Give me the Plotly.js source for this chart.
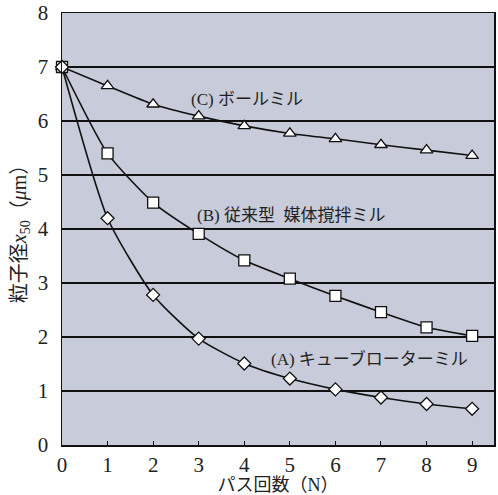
<!DOCTYPE html>
<html><head><meta charset="utf-8">
<script src="https://cdn.plot.ly/plotly-3.0.1.min.js"></script>
<style>body{margin:0;background:#fff}#c{width:498px;height:495px}</style>
</head><body><div id="c"></div>
<script>
const passes = [0,1,2,3,4,5,6,7,8,9];
const ballMill = [7.0,6.65,6.31,6.09,5.91,5.77,5.67,5.56,5.46,5.36];
const conventionalMill = [7.0,5.4,4.49,3.91,3.42,3.08,2.76,2.46,2.18,2.02];
const cubeRotorMill = [7.0,4.2,2.78,1.97,1.51,1.23,1.03,0.88,0.76,0.67];
const xTicks = [0,1,2,3,4,5,6,7,8,9];
const yTicks = [0,1,2,3,4,5,6,7,8];
const labels = ["(C) ボールミル","(B) 従来型  媒体撹拌ミル","(A) キューブローターミル"];

const line = {color:'#111', width:1.6, shape:'spline', smoothing:0.6};
function tr(y, sym){
  return {x:passes, y:y, mode:'lines+markers', line:line, cliponaxis:false,
    marker:{symbol:sym, size: sym==='diamond'?10:11, color:'#fff', line:{color:'#111', width:1.3}},
    showlegend:false, hoverinfo:'skip'};
}
const serif = 'Liberation Serif, Times New Roman, serif';
const cjk = 'Liberation Serif, Noto Sans CJK JP, serif';
Plotly.newPlot('c', [tr(ballMill,'triangle-up'), tr(conventionalMill,'square'), tr(cubeRotorMill,'diamond')], {
  width:498, height:495,
  margin:{l:62, r:4, t:13, b:50},
  paper_bgcolor:'#fff', plot_bgcolor:'#c8cbd9',
  xaxis:{range:[0,9.48], tickvals:xTicks, ticks:'inside', ticklen:4, tickcolor:'#111',
    showgrid:false, zeroline:false, showline:true, linecolor:'#111', linewidth:1.5, mirror:true,
    tickfont:{family:serif, size:21, color:'#222'}, ticklabelstandoff:0,
    title:{text:'パス回数（N）', font:{family:cjk, size:18, color:'#222'}, standoff:2}},
  yaxis:{range:[0,8], tickvals:yTicks, ticks:'', showgrid:true, gridcolor:'#111', gridwidth:1.5,
    zeroline:false, showline:true, linecolor:'#111', linewidth:1.5, mirror:true,
    tickfont:{family:serif, size:21, color:'#222'}, ticklabelstandoff:8, ticklabeloverflow:'allow',
    title:{text:'粒子径<i>x</i><sub>50</sub>（<i>μ</i>m）', font:{family:cjk, size:20, color:'#222'}, standoff:6}},
  annotations:[
    {x:4.06, y:6.4, text:labels[0], showarrow:false, font:{family:cjk, size:17, color:'#222'}},
    {x:5.02, y:4.25, text:labels[1], showarrow:false, font:{family:cjk, size:17, color:'#222'}},
    {x:6.75, y:1.6, text:labels[2], showarrow:false, font:{family:cjk, size:17, color:'#222'}}
  ]
}, {displayModeBar:false, staticPlot:true});
</script></body></html>
